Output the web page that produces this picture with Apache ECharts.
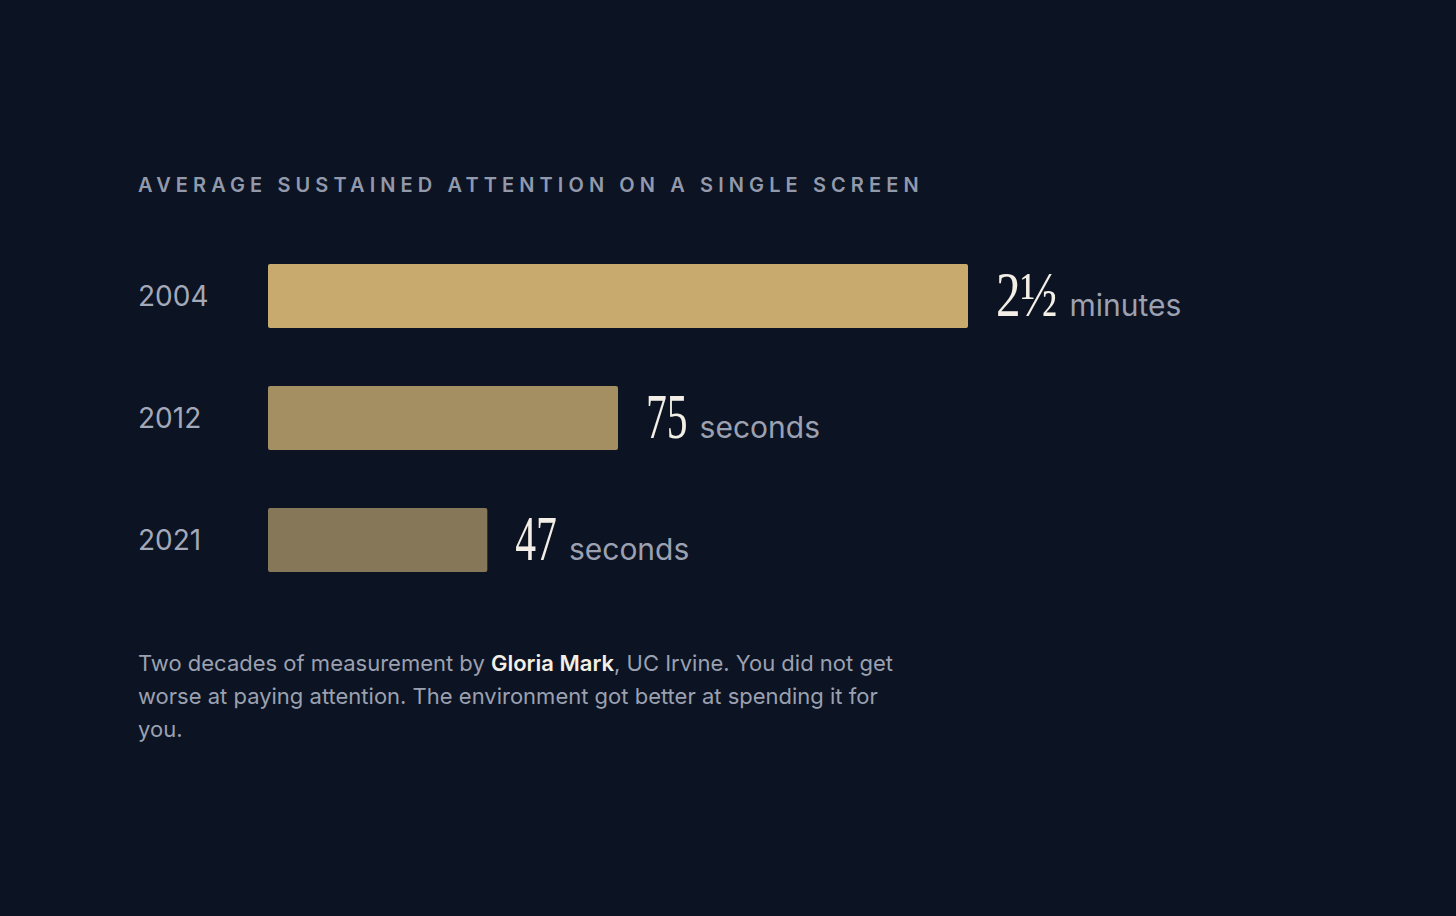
<!DOCTYPE html>
<html lang="en">
<head>
    <meta charset="UTF-8">
    <title>Sustained attention</title>
    <style>
        html, body { margin: 0; padding: 0; background: #0c1322; }
        #main { width: 1456px; height: 916px; }
    </style>
</head>
<body>
<div id="main"></div>
<script src="https://cdn.jsdelivr.net/npm/echarts@6/dist/echarts.min.js"></script>
<script>
    var years = ['2004', '2012', '2021'];
    var seconds = [150, 75, 47];
    var shownValue = ['2½', '75', '47'];
    var units = ['minutes', 'seconds', 'seconds'];
    var barColors = ['#c8aa6e', '#a48f62', '#857758'];

    var titleText = 'AVERAGE SUSTAINED ATTENTION ON A SINGLE SCREEN';

    var myChart = echarts.init(document.getElementById('main'), null, { renderer: 'svg' });

    var option = {
        backgroundColor: '#0c1322',
        animation: false,
        textStyle: { fontFamily: 'Inter' },
        title: {
            text: titleText,
            left: 133,
            top: 170,
            textStyle: {
                fontFamily: 'Inter',
                fontSize: 20,
                fontWeight: 600,
                color: '#9299ab'
            }
        },
        grid: {
            left: 268,
            width: 700,
            top: 235,
            height: 366
        },
        xAxis: {
            type: 'value',
            min: 0,
            max: 150,
            show: false
        },
        yAxis: {
            type: 'category',
            data: years,
            inverse: true,
            axisLine: { show: false },
            axisTick: { show: false },
            axisLabel: {
                align: 'left',
                margin: 130,
                fontFamily: 'Inter',
                fontSize: 28,
                color: '#a3a9b8'
            }
        },
        series: [
            {
                type: 'bar',
                barWidth: 64,
                data: seconds.map(function (v, i) {
                    return { value: v, itemStyle: { color: barColors[i] } };
                }),
                itemStyle: { borderRadius: 2 },
                label: {
                    show: true,
                    position: 'right',
                    distance: 28,
                    offset: [0, -2],
                    formatter: function (p) {
                        return '{n|' + shownValue[p.dataIndex] + '}{u|' + units[p.dataIndex] + '}';
                    },
                    rich: {
                        n: {
                            fontFamily: 'Liberation Serif',
                            fontSize: 63,
                            color: '#f4efe6',
                            lineHeight: 64,
                            verticalAlign: 'bottom'
                        },
                        u: {
                            fontFamily: 'Inter',
                            fontSize: 30,
                            color: '#9ba1b1',
                            lineHeight: 64,
                            verticalAlign: 'bottom',
                            padding: [0, 0, 6, 12]
                        }
                    }
                }
            }
        ],
        graphic: [
            {
                type: 'text',
                left: 138,
                top: 652,
                style: {
                    text: '{t|Two decades of measurement by }{b|Gloria Mark}{t|, UC Irvine. You did not get}\n' +
                        '{t|worse at paying attention. The environment got better at spending it for}\n' +
                        '{t|you.}',
                    rich: {
                        t: { fontFamily: 'Inter', fontSize: 22, fill: '#9ba1b1', lineHeight: 33 },
                        b: { fontFamily: 'Inter', fontSize: 22, fontWeight: 600, fill: '#f4efe6', lineHeight: 33 }
                    }
                }
            }
        ]
    };

    myChart.setOption(option);

    // svg post pass: letter-spaced heading, condensed numerals
    function squeezeFor(txt) {
        return txt === '2½' ? 0.78 : 0.66;
    }

    function tidyText() {
        var nodes = document.querySelectorAll('#main text');
        var i, node;
        for (i = 0; i < nodes.length; i++) {
            node = nodes[i];
            if (node.getAttribute('data-done')) continue;
            if (node.textContent === titleText) {
                node.setAttribute('letter-spacing', '5.1px');
                node.setAttribute('data-done', '1');
            }
        }
        for (i = 0; i < nodes.length; i++) {
            node = nodes[i];
            if (node.getAttribute('data-done')) continue;
            if (shownValue.indexOf(node.textContent) < 0) continue;
            var s = squeezeFor(node.textContent);
            var unit = nodes[i + 1];
            var w = node.getComputedTextLength();
            var x0 = parseFloat(node.getAttribute('x')) || 0;
            var base = node.getAttribute('transform') || '';
            node.setAttribute('transform', base + ' translate(' + x0 + ',0) scale(' + s + ',1) translate(' + (-x0) + ',0)');
            node.setAttribute('data-done', '1');
            if (unit && units.indexOf(unit.textContent) >= 0) {
                var ubase = unit.getAttribute('transform') || '';
                unit.setAttribute('transform', ubase + ' translate(' + (-w * (1 - s)) + ',0)');
                unit.setAttribute('data-done', '1');
            }
        }
    }
    tidyText();
    myChart.on('finished', tidyText);
</script>
</body>
</html>
